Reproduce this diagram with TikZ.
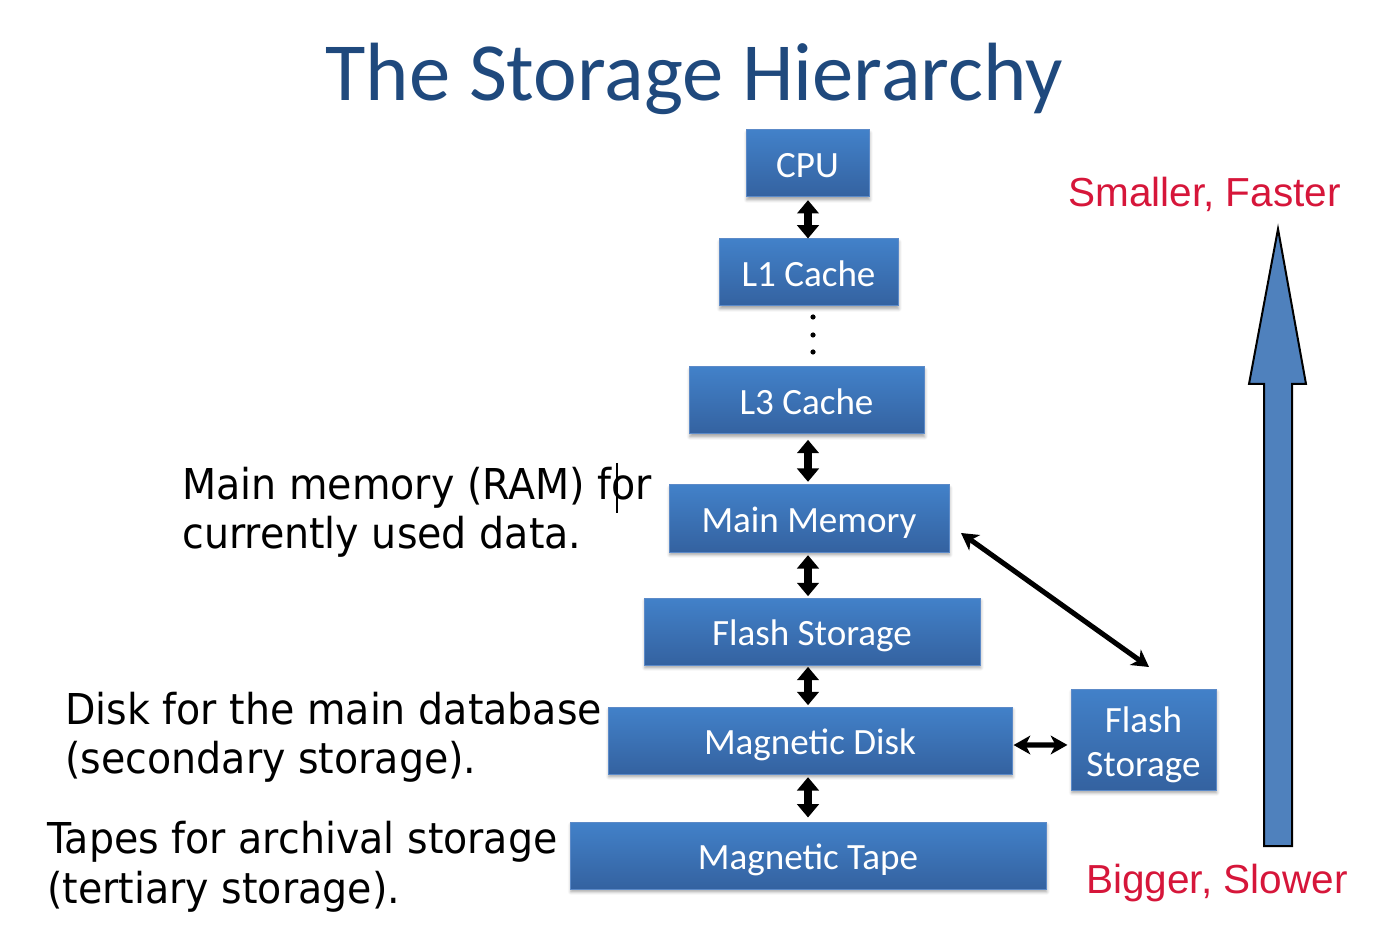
\documentclass[tikz,border=0pt]{standalone}
\usepackage{fontspec}
\setmainfont{Carlito}
\newfontfamily\notefont[FakeStretch=0.93]{DejaVu Sans}
\newfontfamily\tagfont{Liberation Sans}
\usetikzlibrary{arrows.meta,shadows.blur}
\definecolor{titleblue}{RGB}{31,73,125}
\definecolor{boxtop}{RGB}{66,129,201}
\definecolor{boxbot}{RGB}{52,98,160}
\definecolor{boxline}{RGB}{92,138,200}
\definecolor{arrowblue}{RGB}{79,129,189}
\definecolor{tagred}{RGB}{214,22,58}

\begin{document}
\begin{tikzpicture}[x=0.75pt,y=-0.75pt,
  levelbase/.style={draw=boxline, line width=0.75pt, top color=boxtop, bottom color=boxbot,
    text=white, font=\fontsize{27.8pt}{33pt}\selectfont, inner sep=0pt,
    minimum height=50.25pt, align=center,
    blur shadow={shadow xshift=0.6pt, shadow yshift=-2.2pt, shadow blur radius=2.2pt, shadow opacity=35}},
  level/.style={levelbase, text height=20.9pt, text depth=0pt},
  note/.style={anchor=base west, inner sep=0pt, font=\notefont\fontsize{31.9pt}{36pt}\selectfont},
  tag/.style={anchor=base west, inner sep=0pt, text=tagred, font=\tagfont\fontsize{30.4pt}{36pt}\selectfont},
  vlink/.style={line width=6pt, {Triangle[width=16pt,length=10pt]}-{Triangle[width=16pt,length=10pt]}},
  slink/.style={line width=3.8pt, {Stealth[width=14pt,length=12.5pt,inset=3.5pt]}-{Stealth[width=14pt,length=12.5pt,inset=3.5pt]}},
]
\useasboundingbox (0,0) rectangle (1382,930);

% title
\node[anchor=base, inner sep=0pt, text=titleblue, font=\fontsize{62pt}{70pt}\selectfont]
  (title) at (694,101) {The Storage Hierarchy};

% storage levels
\node[level, minimum width=92.25pt]  (cpu)  at (807.5,163.5) {CPU};
\node[level, minimum width=134.25pt] (l1)   at (808.5,272.5) {L1 Cache};
\node[level, minimum width=176.25pt] (l3)   at (806.5,400.5) {L3 Cache};
\node[level, minimum width=210pt]    (mm)   at (809,518.5)   {Main Memory};
\node[level, minimum width=252pt]    (fl)   at (812,631.5)   {Flash Storage};
\node[level, minimum width=303pt]    (disk) at (810,740.5)   {Magnetic Disk};
\node[level, minimum width=357pt]    (tape) at (808,855.5)   {Magnetic Tape};
\node[levelbase, minimum width=108.75pt, minimum height=75.75pt] (fs2) at (1143.5,739.5)
  {\rule{0pt}{28pt}Flash\\Storage};

% links between neighbouring levels
\coordinate (axis) at (808,0);
\draw[vlink] ([yshift=-2pt]cpu.south -| axis) -- (l1.north -| axis);
\draw[vlink] ([yshift=-4pt]l3.south -| axis) -- ([yshift=2pt]mm.north -| axis);
\draw[vlink] ([yshift=-2pt]mm.south -| axis) -- ([yshift=1pt]fl.north -| axis);
\draw[vlink] ([yshift=-1pt]fl.south -| axis) -- ([yshift=1pt]disk.north -| axis);
\draw[vlink] ([yshift=-2pt]disk.south -| axis) -- ([yshift=3pt]tape.north -| axis);

% elided cache levels
\foreach \y in {317,335,352} \fill (813,\y) circle[radius=2.6];

% side links to the second flash unit
\coordinate (mmtip) at (961,533);
\coordinate (fstip) at (1149,667);
\draw[slink] (mmtip) -- (fstip);
\draw[slink] ([xshift=0.8pt,yshift=-3.4pt]disk.east) -- ([xshift=-2.3pt,yshift=-4.1pt]fs2.west);

% speed / size arrow
\draw[fill=arrowblue, line width=1.5pt, line join=miter]
  (1264,846) -- (1264,384) -- (1249,384) -- (1278,229) -- (1306,384) -- (1292,384) -- (1292,846) -- cycle;
\node[tag] (fast) at (1068,207) {Smaller, Faster};
\node[tag] (slow) at (1086,893) {Bigger, Slower};

% notes
\node[note] (n1a) at (182,499) {Main memory (RAM) for};
\node[note] (n1b) at (182,548) {currently used data.};
\draw[line width=1.2pt] (617,463) -- (617,513);
\node[note] (n2a) at (65,724) {Disk for the main database};
\node[note] (n2b) at (65,773) {(secondary storage).};
\node[note] (n3a) at (47,853) {Tapes for archival storage};
\node[note] (n3b) at (47,903) {(tertiary storage).};
\end{tikzpicture}
\end{document}
